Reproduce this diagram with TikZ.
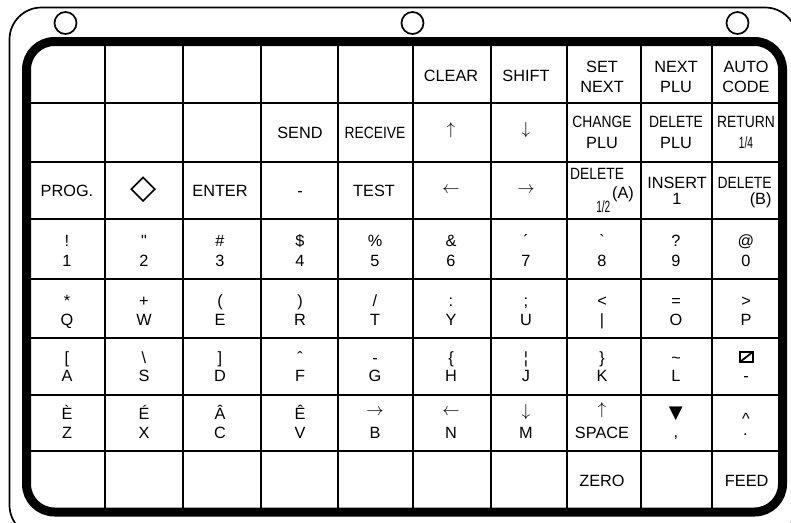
\documentclass[tikz,border=0pt]{standalone}
\usepackage{fontspec}
\usepackage{graphicx}
\newfontfamily\kb{Liberation Sans}[Ligatures=TeXOff]
\newfontfamily\dv{DejaVu Sans}
\newcommand\cnd[1]{\scalebox{0.85}[1]{#1}}
\newcommand\nrw[1]{\scalebox{0.62}[1]{#1}}
\newcommand\tl[6]{\node[kt] (u#1) at (#2,#3) {#5}; \node[kt] (l#1) at (#2,#4) {#6};}
\begin{document}
\begin{tikzpicture}[x=1pt,y=-1pt,
  kt/.style={font=\kb\fontsize{16.3pt}{20pt}\selectfont, inner sep=0pt, anchor=base},
  ar/.style={font=\fontsize{17.28pt}{20pt}\selectfont, inner sep=0pt, anchor=center},
  gl/.style={line width=2.2pt},
  border/.style={line width=9pt, rounded corners=28pt},
  frame/.style={line width=1.7pt, rounded corners=32pt},
  hole/.style={circle, draw, line width=1.7pt, minimum size=22pt, inner sep=0pt}]
\useasboundingbox (0,0) rectangle (791,522);
\begin{scope}
\clip (0,0) rectangle (791,522);
\draw[frame] (9.5,7.5) rectangle (797,537);
\end{scope}
\node[hole] (holea) at (65.5,23) {};
\node[hole] (holeb) at (412.5,23) {};
\node[hole] (holec) at (737.5,23) {};
\foreach \x in {105,183,261,338,413,491,567,641,712} \draw[gl] (\x,41.5) -- (\x,512);
\foreach \y in {103,162,219,279,338,395,451} \draw[gl] (26.5,\y) -- (782.5,\y);
\draw[border] (26.5,41.5) rectangle (782.5,512);
% row 0
\node[kt] (clear) at (451,81.5) {CLEAR};
\node[kt] (shift) at (526,81.5) {SHIFT};
\tl{07}{602}{72.7}{92.7}{SET}{NEXT}
\tl{08}{676}{72.7}{92.7}{NEXT}{PLU}
\tl{09}{746}{72.7}{92.7}{AUTO}{CODE}
% row 1
\node[kt] (send) at (300,138.3) {SEND};
\node[kt] (receive) at (375,138.3) {\cnd{RECEIVE}};
\node[ar] (up1) at (451,130) {$\uparrow$};
\node[ar] (down1) at (526,130) {$\downarrow$};
\tl{17}{602}{127.3}{148.3}{\cnd{CHANGE}}{PLU}
\tl{18}{676}{127.3}{148.3}{\cnd{DELETE}}{PLU}
\tl{19}{746}{127.3}{148.3}{\cnd{RETURN}}{\nrw{1/4}}
% row 2
\node[kt] (prog) at (67,196) {PROG.};
\node[font=\dv\fontsize{34pt}{34pt}\selectfont, inner sep=0pt] (dia) at (144,190) {◇};
\node[kt] (enter) at (220,196) {ENTER};
\node[kt] (minus) at (300,196) {-};
\node[kt] (test) at (374,196) {TEST};
\node[ar] (left2) at (451,190) {$\leftarrow$};
\node[ar] (right2) at (526,190) {$\rightarrow$};
\node[kt, anchor=base west] (dela) at (570,179) {\cnd{DELETE}};
\node[kt, anchor=base east] (aa) at (634,198.3) {(A)};
\node[kt] (half) at (603.3,212.7) {\nrw{1/2}};
\tl{28}{677}{188.3}{204.5}{INSERT}{1}
\node[kt, anchor=base east] (delb) at (771.7,188.3) {\cnd{DELETE}};
\node[kt, anchor=base east] (bb) at (771.7,204) {(B)};
% row 3
\def\ua{246.7}\def\la{266.7}
\tl{30}{67}{\ua}{\la}{!}{1}
\tl{31}{144}{\ua}{\la}{"}{2}
\tl{32}{220}{\ua}{\la}{\#}{3}
\tl{33}{300}{\ua}{\la}{\$}{4}
\tl{34}{375}{\ua}{\la}{\%}{5}
\tl{35}{451}{\ua}{\la}{\&}{6}
\tl{36}{526}{\ua}{\la}{´}{7}
\tl{37}{602}{\ua}{\la}{`}{8}
\tl{38}{676}{\ua}{\la}{?}{9}
\tl{39}{746}{\ua}{\la}{@}{0}
% row 4
\def\ub{306}\def\lb{325}
\tl{40}{67}{\ub}{\lb}{*}{Q}
\tl{41}{144}{\ub}{\lb}{+}{W}
\tl{42}{220}{\ub}{\lb}{(}{E}
\tl{43}{300}{\ub}{\lb}{)}{R}
\tl{44}{375}{\ub}{\lb}{/}{T}
\tl{45}{451}{\ub}{\lb}{:}{Y}
\tl{46}{526}{\ub}{\lb}{;}{U}
\tl{47}{602}{\ub}{\lb}{<}{|}
\tl{48}{676}{\ub}{\lb}{=}{O}
\tl{49}{746}{\ub}{\lb}{>}{P}
% row 5
\def\uc{363}\def\lc{381}
\tl{50}{67}{\uc}{\lc}{[}{A}
\tl{51}{144}{\uc}{\lc}{\textbackslash}{S}
\tl{52}{220}{\uc}{\lc}{]}{D}
\tl{53}{300}{\uc}{\lc}{ˆ}{F}
\tl{54}{375}{\uc}{\lc}{-}{G}
\tl{55}{451}{\uc}{\lc}{\{}{H}
\tl{56}{526}{\uc}{\lc}{¦}{J}
\tl{57}{602}{\uc}{\lc}{\}}{K}
\tl{58}{676}{\uc}{\lc}{\textasciitilde}{L}
\node[draw, line width=1.8pt, minimum width=13pt, minimum height=10pt, inner sep=0pt,
  path picture={\draw[line width=1.8pt] (path picture bounding box.south west) -- (path picture bounding box.north east);}] (u59) at (746.3,357) {};
\node[kt] (l59) at (746,\lc) {-};
% row 6
\def\ud{419.5}\def\ld{438.3}
\tl{60}{67}{\ud}{\ld}{È}{Z}
\tl{61}{144}{\ud}{\ld}{É}{X}
\tl{62}{220}{\ud}{\ld}{Â}{C}
\tl{63}{300}{\ud}{\ld}{Ê}{V}
\node[ar] (u64) at (375,412.5) {$\rightarrow$};
\node[kt] (l64) at (375,\ld) {B};
\node[ar] (u65) at (451,412.5) {$\leftarrow$};
\node[kt] (l65) at (451,\ld) {N};
\node[ar] (u66) at (526,411.7) {$\downarrow$};
\node[kt] (l66) at (526,\ld) {M};
\node[ar] (u67) at (602,410.5) {$\uparrow$};
\node[kt] (l67) at (602,\ld) {SPACE};
\node[font=\dv\fontsize{18pt}{18pt}\selectfont, inner sep=0pt] (u68) at (675.8,413.8) {▼};
\node[kt] (l68) at (675.8,437) {,};
\node[kt] (u69) at (746,424.5) {\textasciicircum};
\node[kt] (l69) at (745.5,435.5) {.};
% row 7
\node[kt] (zero) at (602,486.7) {ZERO};
\node[kt] (feed) at (746.7,486.7) {FEED};
\end{tikzpicture}
\end{document}
